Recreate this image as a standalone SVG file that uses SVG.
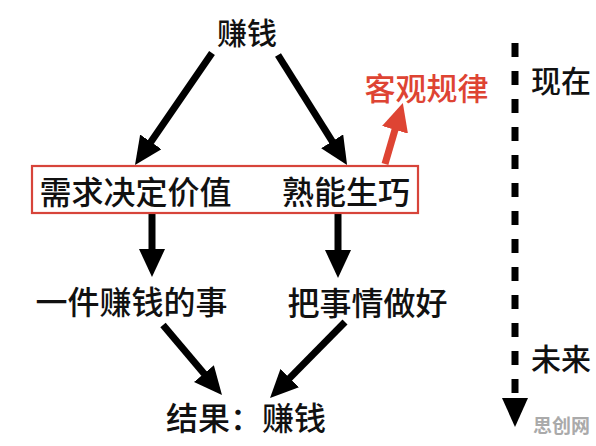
<svg xmlns="http://www.w3.org/2000/svg" width="596" height="446" viewBox="0 0 596 446">
<style>
  .t { font-family: "Noto Sans CJK SC", "Noto Sans", sans-serif; font-size: 32px; font-weight: 500; fill: #111; text-anchor: middle; }
  .red { fill: #de4433; }
  .wm { font-family: "Noto Sans CJK SC", sans-serif; font-size: 19px; font-weight: 700; fill: #aaaaaa; text-anchor: middle; }
  .arr { stroke: #000; stroke-width: 7; fill: none; marker-end: url(#ah); }
  .rarr { stroke: #de4433; stroke-width: 7; fill: none; marker-end: url(#rah); }
</style>
<defs>
  <marker id="ah" markerUnits="userSpaceOnUse" markerWidth="28" markerHeight="26" refX="4" refY="13" orient="auto">
    <path d="M0,0 L28,13 L0,26 z" fill="#000"/>
  </marker>
  <marker id="rah" markerUnits="userSpaceOnUse" markerWidth="28" markerHeight="27" refX="4" refY="13.5" orient="auto">
    <path d="M0,0 L28,13.5 L0,27 z" fill="#de4433"/>
  </marker>
  <marker id="tah" markerUnits="userSpaceOnUse" markerWidth="29" markerHeight="26" refX="0" refY="13" orient="auto">
    <path d="M0,0 L29,13 L0,26 z" fill="#000"/>
  </marker>
</defs>
<rect width="596" height="446" fill="#fff"/>
<g id="connectors">
  <line class="arr" x1="212" y1="53" x2="148.6" y2="145.2"/>
  <line class="arr" x1="278" y1="55" x2="334.3" y2="144.7"/>
  <line class="arr" x1="152" y1="214" x2="152" y2="253"/>
  <line class="arr" x1="338" y1="214" x2="338" y2="254"/>
  <line class="arr" x1="163" y1="325" x2="206.5" y2="376.6"/>
  <line class="arr" x1="345" y1="322" x2="286.9" y2="380.9"/>
  <line class="rarr" x1="385" y1="164" x2="396.1" y2="126"/>
</g>
<g id="timeline">
  <line x1="515" y1="43" x2="515" y2="398" stroke="#000" stroke-width="7" stroke-dasharray="14 14" marker-end="url(#tah)"/>
</g>
<g id="node-top"><text class="t" x="247" y="44" style="font-size:30px">赚钱</text></g>
<g id="node-box">
  <rect x="32" y="166" width="386" height="47" fill="none" stroke="#d7443a" stroke-width="2.2"/>
  <text class="t" x="135.5" y="204">需求决定价值</text>
  <text class="t" x="346" y="204">熟能生巧</text>
</g>
<g id="node-law"><text class="t red" x="426.5" y="100" style="font-size:31px">客观规律</text></g>
<g id="node-now"><text class="t" x="561" y="92" style="font-size:30px">现在</text></g>
<g id="node-future"><text class="t" x="561" y="370" style="font-size:30px">未来</text></g>
<g id="node-left"><text class="t" x="131.5" y="314">一件赚钱的事</text></g>
<g id="node-right"><text class="t" x="367.5" y="315">把事情做好</text></g>
<g id="node-result"><text class="t" x="246" y="430">结果：赚钱</text></g>
<g id="watermark"><text class="wm" x="561.5" y="433">思创网</text></g>
</svg>
